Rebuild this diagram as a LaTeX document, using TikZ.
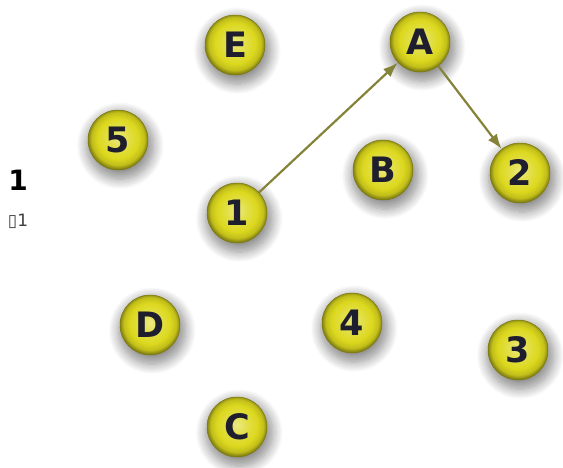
\documentclass[tikz,border=0pt]{standalone}
\usepackage{fontspec}
\setsansfont{DejaVu Sans}
\newfontfamily\shapefont{DejaVu Sans}
\usepackage{tikz}
\usetikzlibrary{arrows.meta,shadows.blur}
\definecolor{ballyel}{HTML}{DCD81E}
\definecolor{arrowol}{HTML}{85833A}
\definecolor{inkdark}{HTML}{1E1E2E}
\pgfdeclareradialshading{yelball}{\pgfpoint{0bp}{2bp}}{%
  color(0bp)=(ballyel!55!white); color(8bp)=(ballyel!80!white);
  color(17bp)=(ballyel); color(22bp)=(ballyel!88!black);
  color(25bp)=(ballyel!60!black); color(50bp)=(ballyel!60!black)}
\tikzset{
  every node/.style={font=\sffamily\bfseries},
  ball/.style={circle, minimum size=60pt, inner sep=0pt, shading=yelball,
    draw=ballyel!55!black, line width=0.5pt,
    blur shadow={shadow xshift=2pt, shadow yshift=-5pt, shadow scale=1.12,
      shadow blur radius=9pt, shadow blur steps=12, shadow opacity=45},
    text=inkdark, font=\sffamily\bfseries\fontsize{35}{35}\selectfont},
  arrow/.style={-{Latex[length=15pt,width=11pt]}, arrowol, line width=2.2pt, shorten >=0pt}
}

\begin{document}
\begin{tikzpicture}[x=1pt, y=-1pt]
\useasboundingbox (0,0) rectangle (563,467);

% 1. Side labels
\node[font=\sffamily\bfseries\fontsize{28}{28}\selectfont] (title) at (18,180) {1};
\node[font=\shapefont\fontsize{17}{17}\selectfont, text=black!75] (sub) at (18,221) {▯1};

% 2. Balls
\node[ball] (nE) at (235,45) {E};
\node[ball] (nA) at (420,42) {A};
\node[ball] (n5) at (118,140) {5};
\node[ball] (nB) at (383,170) {B};
\node[ball] (n2) at (520,173) {2};
\node[ball] (n1) at (237,213) {1};
\node[ball] (nD) at (150,325) {D};
\node[ball] (n4) at (352,323) {4};
\node[ball] (n3) at (518,350) {3};
\node[ball] (nC) at (237,427) {C};

% 3. Connections
\draw[arrow] (n1) -- (nA);
\draw[arrow] (nA) -- (n2);

\end{tikzpicture}
\end{document}
